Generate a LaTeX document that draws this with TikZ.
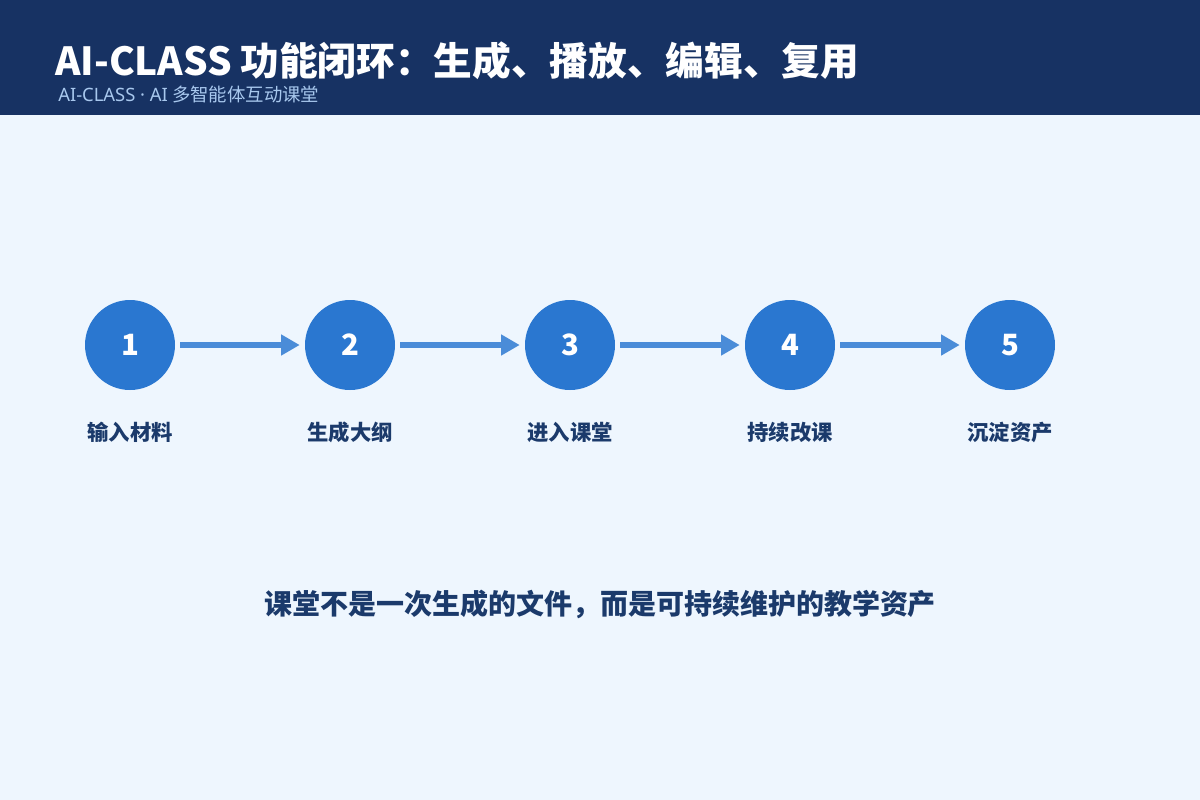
\documentclass[tikz,border=0pt]{standalone}
\usepackage{fontspec}
\setmainfont{Noto Sans CJK SC}
\newfontfamily\latinf{Noto Sans}
\usetikzlibrary{arrows.meta}
\definecolor{navy}{HTML}{173263}
\definecolor{bgc}{HTML}{EEF6FE}
\definecolor{circ}{HTML}{2A77D0}
\definecolor{arr}{HTML}{4A8CD8}
\definecolor{lbl}{HTML}{1B3A6B}
\definecolor{subc}{HTML}{A8C8EE}
\tikzset{
  stepcirc/.style={circle, fill=circ, minimum size=67.5pt, inner sep=0pt, text=white, font=\fontsize{22}{22}\selectfont\bfseries},
  steplbl/.style={text=lbl, font=\fontsize{16}{16}\selectfont\bfseries, inner sep=0pt},
  flow/.style={draw=arr, line width=4.5pt, -{Triangle[length=14pt,width=15pt]}, shorten >=3.75pt},
}
\begin{document}
\begin{tikzpicture}[x=0.75pt,y=-0.75pt]
\useasboundingbox (0,0) rectangle (1200,800);
\fill[bgc] (0,0) rectangle (1200,800);
\fill[navy] (0,0) rectangle (1200,115);
\node[anchor=base west, text=white, inner sep=0pt, font=\fontsize{29}{29}\selectfont\bfseries] (title) at (55,75) {AI-CLASS 功能闭环：生成、播放、编辑、复用};
\node[anchor=base west, text=subc, inner sep=0pt, font=\fontsize{13.8}{13.8}\selectfont] (sub) at (58,101) {{\latinf AI-CLASS · AI} 多智能体互动课堂};
\foreach \i/\x/\t in {1/130/输入材料,2/350/生成大纲,3/570/进入课堂,4/790/持续改课,5/1010/沉淀资产}{
  \node[stepcirc] (c\i) at (\x,345) {\i};
  \node[steplbl] (l\i) at (\x,432) {\t};
}
\foreach \a/\b in {1/2,2/3,3/4,4/5}{
  \draw[flow] ([xshift=3.75pt]c\a.east) -- (c\b.west);
}
\node[text=lbl, inner sep=0pt, font=\fontsize{21}{21}\selectfont\bfseries] (msg) at (600,604) {课堂不是一次生成的文件，而是可持续维护的教学资产};
\end{tikzpicture}
\end{document}
